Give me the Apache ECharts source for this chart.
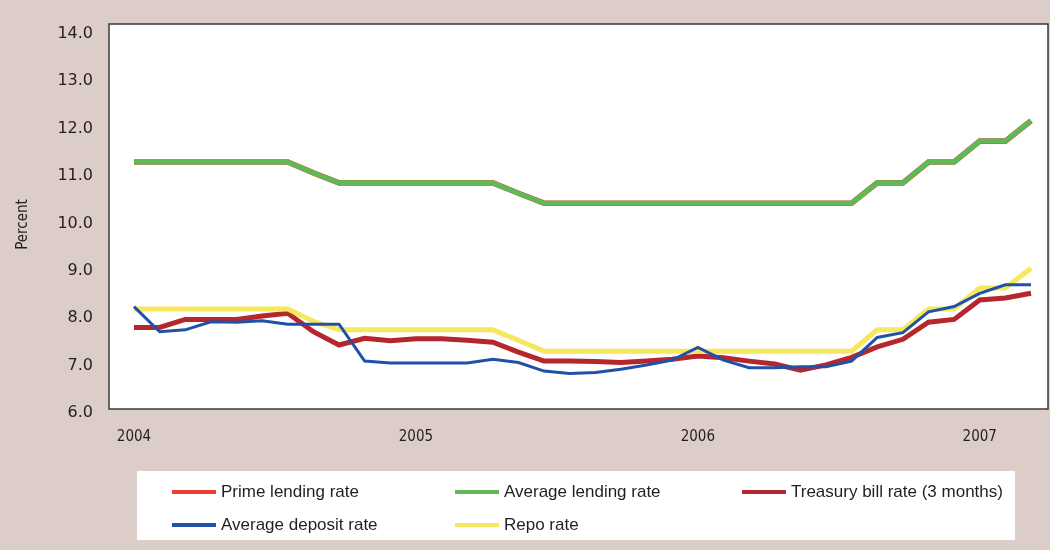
<!DOCTYPE html>
<html>
<head>
<meta charset="utf-8">
<script src="https://cdn.jsdelivr.net/npm/echarts@6/dist/echarts.min.js"></script>
<style>
html,body{margin:0;padding:0;background:#dccdc9;}
#chart{width:1050px;height:550px;}
</style>
</head>
<body>
<div id="chart"></div>
<script>
// ---- data ----
const categories = ['1','2','3','4','5','6','7','8','9','10','11','12','13','14','15','16','17','18','19','20','21','22','23','24','25','26','27','28','29','30','31','32','33','34','35','36'];
const yearLabels = ['2004','2005','2006','2007'];
const yearLabelIndex = [0, 11, 22, 33];
const yTicks = [6, 7, 8, 9, 10, 11, 12, 13, 14];

const primeLending = [11.21,11.21,11.21,11.21,11.21,11.21,11.21,10.98,10.77,10.77,10.77,10.77,10.77,10.77,10.77,10.55,10.34,10.34,10.34,10.34,10.34,10.34,10.34,10.34,10.34,10.34,10.34,10.34,10.34,10.77,10.77,11.21,11.21,11.65,11.65,12.08];
const averageLending = [11.21,11.21,11.21,11.21,11.21,11.21,11.21,10.98,10.77,10.77,10.77,10.77,10.77,10.77,10.77,10.55,10.34,10.34,10.34,10.34,10.34,10.34,10.34,10.34,10.34,10.34,10.34,10.34,10.34,10.77,10.77,11.21,11.21,11.65,11.65,12.08];
const treasuryBill = [7.72,7.72,7.89,7.89,7.89,7.96,8.02,7.63,7.35,7.49,7.44,7.48,7.48,7.45,7.41,7.20,7.01,7.01,7.00,6.98,7.01,7.05,7.12,7.08,7.01,6.95,6.82,6.93,7.09,7.31,7.47,7.83,7.89,8.30,8.34,8.44];
const averageDeposit = [8.16,7.63,7.67,7.84,7.83,7.86,7.79,7.79,7.79,7.01,6.97,6.97,6.97,6.97,7.05,6.98,6.80,6.75,6.77,6.84,6.93,7.03,7.30,7.03,6.87,6.87,6.89,6.89,7.01,7.51,7.61,8.05,8.16,8.44,8.62,8.62];
const repoRate = [8.11,8.11,8.11,8.11,8.11,8.11,8.11,7.85,7.67,7.67,7.67,7.67,7.67,7.67,7.67,7.45,7.22,7.22,7.22,7.22,7.22,7.22,7.22,7.22,7.22,7.22,7.22,7.22,7.22,7.67,7.67,8.11,8.11,8.55,8.55,8.97];

const seriesNames = ['Prime lending rate','Average lending rate','Treasury bill rate (3 months)','Average deposit rate','Repo rate'];

// ---- chart ----
const chart = echarts.init(document.getElementById('chart'), null, {renderer:'canvas'});
const narrow = "'Liberation Sans Narrow','DejaVu Sans Condensed',sans-serif";
const legendText = {fontFamily:"'Liberation Sans',Arial,sans-serif", fontSize:17, color:'#231f20', lineHeight:20};

function line(name, data, color, width, z){
  return {name:name, type:'line', data:data, color:color, showSymbol:false, symbol:'none',
    lineStyle:{width:width, color:color, join:'miter'}, z:z, animation:false};
}

const legendBase = {orient:'vertical', top:482, padding:0, itemWidth:44, itemHeight:4, itemGap:13, icon:'rect', textStyle:legendText, selectedMode:false};

chart.setOption({
  backgroundColor:'#dccdc9',
  animation:false,
  grid:{left:134, right:19, top:24, bottom:141, containLabel:false},
  graphic:[
    {type:'rect', z:0, silent:true, shape:{x:109, y:24, width:939, height:385}, style:{fill:'#ffffff', stroke:'#3a3a3a', lineWidth:1.5}},
    {type:'rect', z:0, silent:true, shape:{x:137, y:471, width:878, height:69}, style:{fill:'#ffffff'}}
  ],
  xAxis:{
    type:'category', data:categories, boundaryGap:false,
    axisLine:{show:false}, axisTick:{show:false}, splitLine:{show:false},
    axisLabel:{
      interval:function(i){ return yearLabelIndex.indexOf(i) >= 0; },
      formatter:function(v, i){ const k = yearLabelIndex.indexOf(i); return k >= 0 ? yearLabels[k] : ''; },
      fontFamily:narrow, fontSize:15, color:'#231f20', margin:21
    }
  },
  yAxis:{
    type:'value', min:yTicks[0], max:14.12, interval:1, offset:25,
    axisLine:{show:false}, axisTick:{show:false}, splitLine:{show:false},
    axisLabel:{
      showMaxLabel:false,
      formatter:function(v){ return yTicks.indexOf(v) >= 0 ? v.toFixed(1) : ''; },
      fontFamily:"'DejaVu Sans',sans-serif", fontSize:16, color:'#231f20', margin:16,
      verticalAlign:'top', lineHeight:8
    },
    name:'Percent', nameLocation:'middle', nameRotate:90, nameGap:78,
    nameTextStyle:{fontFamily:narrow, fontSize:15, color:'#231f20', padding:[0,16,0,0]}
  },
  legend:[
    Object.assign({}, legendBase, {data:[seriesNames[0], seriesNames[3]], left:172}),
    Object.assign({}, legendBase, {data:[seriesNames[1], seriesNames[4]], left:455}),
    Object.assign({}, legendBase, {data:[seriesNames[2]], left:742})
  ],
  series:[
    line(seriesNames[0], primeLending, '#ee3e32', 5.6, 2),
    line(seriesNames[1], averageLending, '#5dba57', 5, 3),
    line(seriesNames[2], treasuryBill, '#b5272d', 5, 4),
    line(seriesNames[4], repoRate, '#f5e85c', 5, 5),
    line(seriesNames[3], averageDeposit, '#2051a6', 3, 6)
  ]
});
</script>
</body>
</html>
